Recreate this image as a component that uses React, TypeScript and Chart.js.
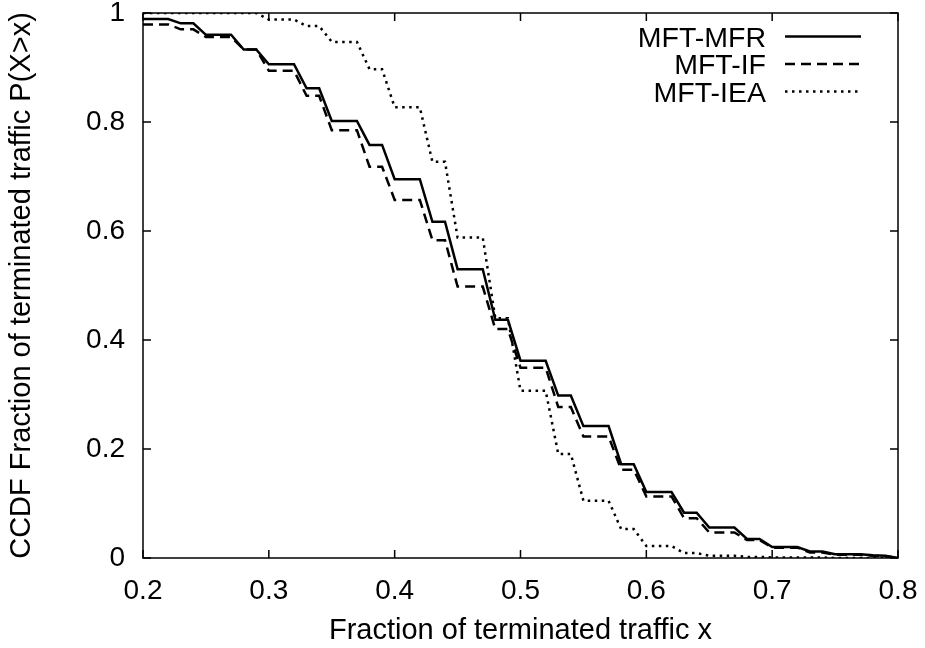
import React, { useEffect, useRef } from "react";
import { Chart, registerables } from "chart.js";

Chart.register(...registerables);

// Shared x sampling points (fraction of terminated traffic)
const xValues = [
  0.2, 0.22, 0.23, 0.24, 0.25, 0.27, 0.28, 0.29, 0.3, 0.32, 0.33, 0.34, 0.35, 0.37, 0.38, 0.39,
  0.4, 0.42, 0.43, 0.44, 0.45, 0.47, 0.48, 0.49, 0.5, 0.52, 0.53, 0.54, 0.55, 0.57, 0.58, 0.59,
  0.6, 0.62, 0.63, 0.64, 0.65, 0.67, 0.68, 0.69, 0.7, 0.72, 0.73, 0.74, 0.75, 0.77, 0.78, 0.79, 0.8,
];

const mfrValues = [
  0.989, 0.989, 0.981, 0.981, 0.96, 0.96, 0.933, 0.933, 0.906, 0.906, 0.862, 0.862, 0.802, 0.802, 0.758, 0.758,
  0.695, 0.695, 0.617, 0.617, 0.53, 0.53, 0.437, 0.437, 0.362, 0.362, 0.298, 0.298, 0.242, 0.242, 0.172, 0.172,
  0.121, 0.121, 0.083, 0.083, 0.056, 0.056, 0.035, 0.035, 0.02, 0.02, 0.012, 0.012, 0.007, 0.007, 0.005, 0.004, 0.0,
];

const ifValues = [
  0.979, 0.979, 0.97, 0.97, 0.956, 0.956, 0.933, 0.933, 0.894, 0.894, 0.848, 0.848, 0.785, 0.785, 0.718, 0.718,
  0.657, 0.657, 0.583, 0.583, 0.498, 0.498, 0.42, 0.42, 0.349, 0.349, 0.277, 0.277, 0.223, 0.223, 0.162, 0.162,
  0.113, 0.113, 0.073, 0.073, 0.047, 0.047, 0.033, 0.033, 0.019, 0.019, 0.01, 0.01, 0.006, 0.006, 0.004, 0.003, 0.0,
];

const ieaValues = [
  1.0, 1.0, 1.0, 1.0, 1.0, 1.0, 1.0, 1.0, 0.988, 0.988, 0.976, 0.976, 0.947, 0.947, 0.897, 0.897,
  0.827, 0.827, 0.727, 0.727, 0.588, 0.588, 0.44, 0.44, 0.307, 0.307, 0.191, 0.191, 0.105, 0.105, 0.053, 0.053,
  0.022, 0.022, 0.009, 0.009, 0.004, 0.004, 0.002, 0.002, 0.001, 0.001, 0.001, 0.001, 0.0, 0.0, 0.0, 0.0, 0.0,
];

const seriesLabels = ["MFT-MFR", "MFT-IF", "MFT-IEA"];
const xTickValues = [0.2, 0.3, 0.4, 0.5, 0.6, 0.7, 0.8];
const yTickValues = [0, 0.2, 0.4, 0.6, 0.8, 1];
const yTickLabels = ["0", "0.2", "0.4", "0.6", "0.8", "1"];
const xTickLabels = ["0.2", "0.3", "0.4", "0.5", "0.6", "0.7", "0.8"];
const xTitle = "Fraction of terminated traffic x";
const yTitle = "CCDF Fraction of terminated traffic P(X>x)";

const FONT = '"Liberation Sans", Arial, Helvetica, sans-serif';
const FS = 28;
const FS_TITLE = 29;
const FS_KEY = 28.5;

const framePlugin = {
  id: "gnuFrame",
  afterDatasetsDraw(chart: any) {
    const { ctx, chartArea: a, scales } = chart;
    ctx.save();
    ctx.strokeStyle = "#000";
    ctx.lineWidth = 1.5;
    ctx.setLineDash([]);
    ctx.strokeRect(a.left, a.top, a.right - a.left, a.bottom - a.top);
    const tl = 8;
    ctx.beginPath();
    for (const v of xTickValues) {
      const px = scales.x.getPixelForValue(v);
      ctx.moveTo(px, a.bottom);
      ctx.lineTo(px, a.bottom - tl);
      ctx.moveTo(px, a.top);
      ctx.lineTo(px, a.top + tl);
    }
    for (const v of yTickValues) {
      const py = scales.y.getPixelForValue(v);
      ctx.moveTo(a.left, py);
      ctx.lineTo(a.left + tl, py);
      ctx.moveTo(a.right, py);
      ctx.lineTo(a.right - tl, py);
    }
    ctx.stroke();

    // gnuplot-style key, top right inside plot
    const textRight = 766;
    const sx0 = 785;
    const sx1 = 861;
    const rowY = [36.5, 64, 91.5];
    ctx.font = `${FS_KEY}px ${FONT}`;
    ctx.fillStyle = "#000";
    ctx.textAlign = "right";
    ctx.textBaseline = "alphabetic";
    chart.data.datasets.forEach((ds: any, i: number) => {
      const y = rowY[i];
      ctx.fillText(ds.label, textRight, y + 10);
      ctx.beginPath();
      ctx.lineWidth = ds.borderWidth;
      ctx.setLineDash(ds.borderDash || []);
      ctx.moveTo(sx0, y);
      ctx.lineTo(sx1, y);
      ctx.stroke();
    });
    ctx.restore();
  },
};

const zeroPad = (s: any) => {
  s.paddingTop = 0;
  s.paddingBottom = 0;
  s.paddingLeft = 0;
  s.paddingRight = 0;
};

export default function App() {
  const ref = useRef<HTMLCanvasElement>(null);
  useEffect(() => {
    if (!ref.current) return;
    const mk = (vals: number[]) => xValues.map((x, i) => ({ x, y: vals[i] }));
    const chart = new Chart(ref.current, {
      type: "line",
      data: {
        datasets: [
          {
            label: seriesLabels[0],
            data: mk(mfrValues),
            borderColor: "#000",
            borderWidth: 2.5,
            pointRadius: 0,
            tension: 0,
          },
          {
            label: seriesLabels[1],
            data: mk(ifValues),
            borderColor: "#000",
            borderWidth: 2.5,
            borderDash: [10, 6],
            pointRadius: 0,
            tension: 0,
          },
          {
            label: seriesLabels[2],
            data: mk(ieaValues),
            borderColor: "#000",
            borderWidth: 2.5,
            borderDash: [2.5, 4.5],
            pointRadius: 0,
            tension: 0,
          },
        ],
      },
      options: {
        animation: false,
        responsive: false,
        layout: { padding: { left: 0, top: 13, right: 27, bottom: 0 } },
        plugins: { legend: { display: false }, tooltip: { enabled: false } },
        scales: {
          x: {
            type: "linear",
            min: 0.2,
            max: 0.8,
            afterBuildTicks: (s: any) => {
              s.ticks = xTickValues.map((v) => ({ value: v }));
            },
            afterFit: (s: any) => {
              s.height = 90;
              zeroPad(s);
            },
            ticks: {
              callback: (v: any) => {
                const i = xTickValues.findIndex((t) => Math.abs(t - v) < 1e-9);
                return i >= 0 ? xTickLabels[i] : "";
              },
              font: { family: FONT, size: FS },
              color: "#000",
              padding: 16,
              maxRotation: 0,
              autoSkip: false,
            },
            grid: { display: false, drawTicks: false },
            border: { display: false },
            title: {
              display: true,
              text: xTitle,
              font: { family: FONT, size: FS_TITLE },
              color: "#000",
              padding: { top: 0, bottom: 0 },
            },
          },
          y: {
            type: "linear",
            min: 0,
            max: 1,
            afterBuildTicks: (s: any) => {
              s.ticks = yTickValues.map((v) => ({ value: v }));
            },
            afterFit: (s: any) => {
              s.width = 143;
              zeroPad(s);
            },
            ticks: {
              callback: (v: any) => {
                const i = yTickValues.findIndex((t) => Math.abs(t - v) < 1e-9);
                return i >= 0 ? yTickLabels[i] : "";
              },
              font: { family: FONT, size: FS },
              color: "#000",
              padding: 18,
              autoSkip: false,
            },
            grid: { display: false, drawTicks: false },
            border: { display: false },
            title: {
              display: true,
              text: yTitle,
              font: { family: FONT, size: FS_TITLE },
              color: "#000",
              padding: { top: 5, bottom: 0 },
            },
          },
        },
      },
      plugins: [framePlugin],
    });
    return () => chart.destroy();
  }, []);
  return (
    <canvas
      ref={ref}
      width={925}
      height={648}
      style={{ position: "absolute", left: 0, top: 0, width: 925, height: 648, background: "#fff" }}
    />
  );
}
